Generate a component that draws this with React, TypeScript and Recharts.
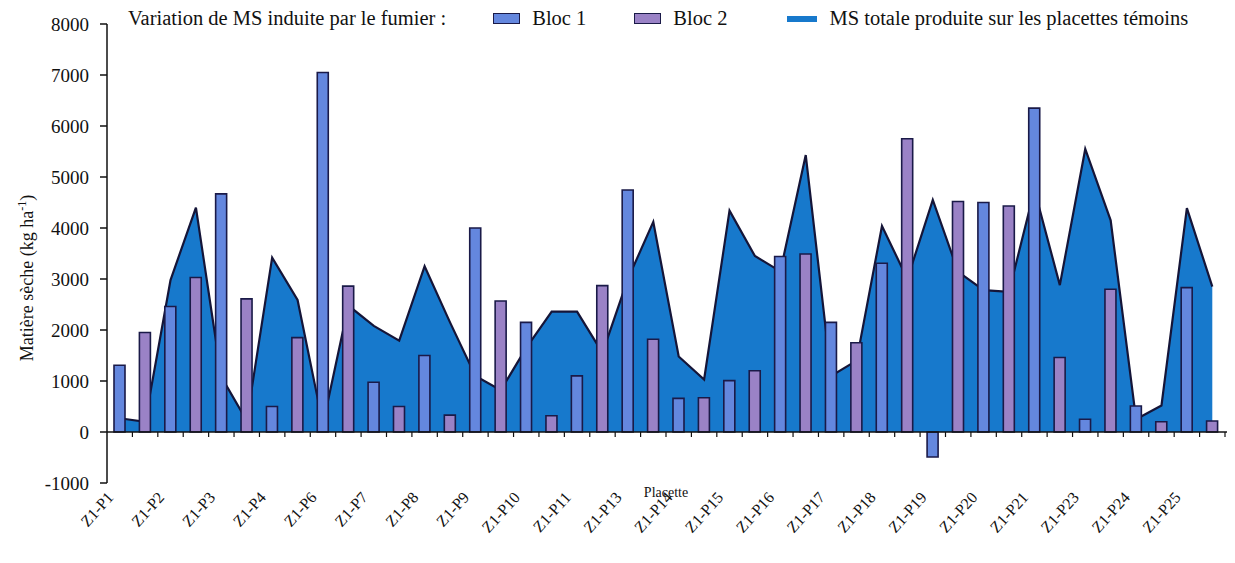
import {
  Area,
  Bar,
  ComposedChart,
  Legend,
  ReferenceLine,
  XAxis,
  YAxis,
} from "recharts";

const placettes = [
  "Z1-P1", "Z1-P2", "Z1-P3", "Z1-P4", "Z1-P6", "Z1-P7", "Z1-P8", "Z1-P9",
  "Z1-P10", "Z1-P11", "Z1-P13", "Z1-P14", "Z1-P15", "Z1-P16", "Z1-P17",
  "Z1-P18", "Z1-P19", "Z1-P20", "Z1-P21", "Z1-P23", "Z1-P24", "Z1-P25",
];

// variation de MS induite par le fumier (kg/ha)
const bloc1 = [
  1310, 2460, 4670, 500, 7050, 975, 1500, 4000, 2150, 1100, 4745,
  660, 1007, 3440, 2150, 3310, -490, 4500, 6350, 250, 510, 2830,
];
const bloc2 = [
  1950, 3030, 2610, 1850, 2860, 500, 330, 2570, 320, 2870, 1820,
  673, 1200, 3490, 1750, 5750, 4520, 4430, 1460, 2800, 200, 215,
];

// MS totale sur placettes temoins, two points per placette (bloc 1, bloc 2)
const msTemoins = [
  270, 200, 2980, 4400, 1080, 220, 3420, 2590, 150, 2480, 2080,
  1790, 3250, 2150, 1100, 820, 1650, 2360, 2360, 1550, 3000, 4120,
  1480, 1030, 4340, 3450, 3150, 5430, 1100, 1400, 4040, 3000, 4550,
  3140, 2780, 2750, 4750, 2880, 5550, 4150, 250, 520, 4390, 2850,
];

const yTicks = [-1000, 0, 1000, 2000, 3000, 4000, 5000, 6000, 7000, 8000];

const rows = placettes.flatMap((p, i) => [
  { key: p + "-b1", placette: p, b1: bloc1[i], ms: msTemoins[2 * i] },
  { key: p + "-b2", placette: p, b2: bloc2[i], ms: msTemoins[2 * i + 1] },
]);

const SERIF = '"Liberation Serif", "Times New Roman", serif';
const W = 1225;
const H = 553;
const MARGIN = { top: 16, right: 8, bottom: 8, left: 39 };
const Y_AXIS_W = 60;
const X_AXIS_H = 70;
const Y_MIN = -1000;
const Y_MAX = 8000;
const PLOT_W = W - MARGIN.left - MARGIN.right - Y_AXIS_W;
const PLOT_H = H - MARGIN.top - MARGIN.bottom - X_AXIS_H;
const ZERO_OFFSET = (PLOT_H * (0 - Y_MIN)) / (Y_MAX - Y_MIN);
const SLOT = PLOT_W / rows.length;

const COLORS = {
  b1: "#6487de",
  b2: "#9a82c6",
  ms: "#1779cc",
  edge: "#1a1a48",
};

function PlacetteTick(props: any) {
  const { x, y, payload } = props;
  const i = payload.index;
  const bx = x + SLOT / 2;
  const y0 = y - ZERO_OFFSET;
  const lx = bx - 18;
  const ly = y + 15;
  return (
    <g>
      <line x1={bx} x2={bx} y1={y0} y2={y0 + 5} stroke="#111" strokeWidth={1.2} />
      {i === rows.length - 1 && (
        <line x1={bx} x2={bx + 6} y1={y0} y2={y0} stroke="#111" strokeWidth={1.5} />
      )}
      {i % 2 === 0 && (
        <text
          x={lx}
          y={ly}
          transform={`rotate(-48, ${lx}, ${ly})`}
          textAnchor="end"
          fontSize={16}
          fontFamily={SERIF}
          fill="#111"
        >
          {rows[i].placette}
        </text>
      )}
    </g>
  );
}

function LegendContent({ payload }: any) {
  const order = ["b1", "b2", "ms"];
  const items = [...(payload ?? [])].sort(
    (a: any, b: any) => order.indexOf(a.dataKey) - order.indexOf(b.dataKey)
  );
  const gaps: Record<string, number> = { b1: 48, b2: 60, ms: 0 };
  return (
    <div
      style={{
        display: "flex",
        alignItems: "center",
        fontFamily: SERIF,
        fontSize: 20.5,
        color: "#111",
        whiteSpace: "nowrap",
      }}
    >
      <span style={{ marginRight: 47 }}>Variation de MS induite par le fumier :</span>
      {items.map((it: any) => (
        <span
          key={it.dataKey}
          style={{ display: "flex", alignItems: "center", marginRight: gaps[it.dataKey] }}
        >
          <span
            style={{
              display: "inline-block",
              width: it.dataKey === "ms" ? 30 : 25,
              height: it.dataKey === "ms" ? 6 : 9,
              background: COLORS[it.dataKey as "b1" | "b2" | "ms"],
              border: it.dataKey === "ms" ? "none" : `1px solid ${COLORS.edge}`,
              marginRight: 12,
            }}
          />
          {it.value}
        </span>
      ))}
    </div>
  );
}

export default function App() {
  return (
    <div style={{ width: W, height: H, fontFamily: SERIF }}>
      <ComposedChart width={W} height={H} data={rows} margin={MARGIN}>
        <XAxis
          dataKey="key"
          height={X_AXIS_H}
          interval={0}
          axisLine={false}
          tickLine={false}
          tickSize={0}
          tickMargin={0}
          tick={<PlacetteTick />}
          label={(p: any) => (
            <text
              x={p.viewBox.x + p.viewBox.width / 2}
              y={p.viewBox.y + 14}
              textAnchor="middle"
              fontSize={14}
              fontFamily={SERIF}
              fill="#111"
            >
              Placette
            </text>
          )}
        />
        <YAxis
          type="number"
          width={Y_AXIS_W}
          domain={[Y_MIN, Y_MAX]}
          ticks={yTicks}
          interval={0}
          axisLine={{ stroke: "#111", strokeWidth: 1.5 }}
          tickLine={{ stroke: "#111", strokeWidth: 1.5 }}
          tickSize={7}
          tickMargin={11}
          tick={{ fontSize: 19, fill: "#111", fontFamily: SERIF }}
          label={() => (
            <text
              transform="rotate(-90)"
              x={-270}
              y={25}
              textAnchor="middle"
              fontSize={18}
              fontFamily={SERIF}
              fill="#111"
            >
              Matière sèche (kg ha
              <tspan dy={-7} fontSize={12}>-1</tspan>
              <tspan dy={7}>)</tspan>
            </text>
          )}
        />
        <Legend
          layout="horizontal"
          verticalAlign="middle"
          align="center"
          content={<LegendContent />}
          wrapperStyle={{ top: -1, left: 120, width: 1100, height: 30 }}
        />
        <Area
          type="linear"
          dataKey="ms"
          name="MS totale produite sur les placettes témoins"
          fill={COLORS.ms}
          fillOpacity={1}
          stroke="#151538"
          strokeWidth={2.2}
          baseValue={0}
          isAnimationActive={false}
        />
        <Bar
          dataKey="b1"
          name="Bloc 1"
          stackId="s"
          barSize={11}
          fill={COLORS.b1}
          stroke={COLORS.edge}
          strokeWidth={1.6}
          isAnimationActive={false}
        />
        <Bar
          dataKey="b2"
          name="Bloc 2"
          stackId="s"
          barSize={11}
          fill={COLORS.b2}
          stroke={COLORS.edge}
          strokeWidth={1.6}
          isAnimationActive={false}
        />
        <ReferenceLine y={0} stroke="#111" strokeWidth={1.5} />
      </ComposedChart>
    </div>
  );
}
